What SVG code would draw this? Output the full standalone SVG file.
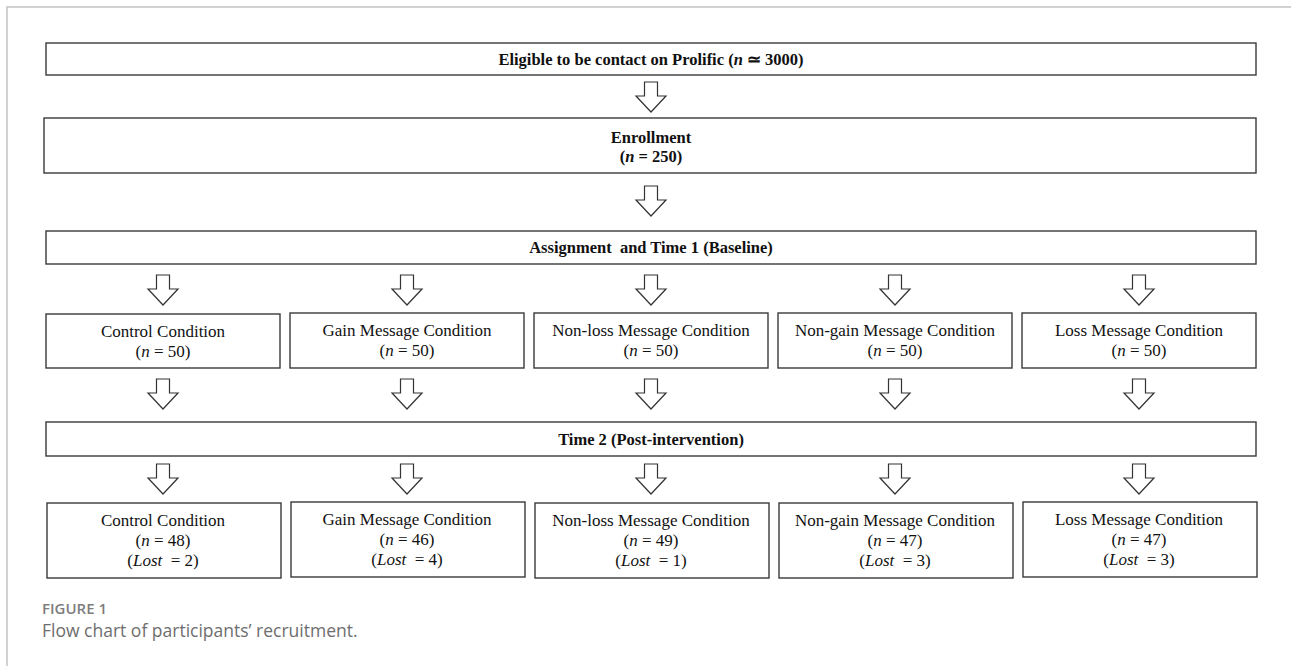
<svg xmlns="http://www.w3.org/2000/svg" xmlns:xlink="http://www.w3.org/1999/xlink" width="1291" height="666" viewBox="0 0 1291 666">
<style>
.frame{stroke:#c4c4c4;stroke-width:1.5;fill:none}
.box{fill:#fff;stroke:#3a3a3a;stroke-width:1.4}
.h{font-family:"Liberation Serif","Times New Roman",serif;font-weight:bold;font-size:16.5px;text-anchor:middle;fill:#111}
.t{font-family:"Liberation Serif","Times New Roman",serif;font-size:17px;text-anchor:middle;fill:#111}
.i{font-style:italic}
.cap1{font-family:"Open Sans","Noto Sans",sans-serif;font-weight:600;font-size:15px;fill:#7d7d7d}
.cap2{font-family:"Open Sans","Noto Sans",sans-serif;font-weight:400;font-size:17.5px;fill:#6e6e6e}
.arr{fill:#fff;stroke:#333;stroke-width:1.2;stroke-linejoin:miter}
</style>
<defs>
<path id="arrow" class="arr" d="M-6.5,0 H6.5 V14 H15 L0,30 L-15,14 H-6.5 Z"/>
</defs>
<rect x="0" y="0" width="1291" height="666" fill="#fff"/>
<path class="frame" d="M7,666 V7 H1291"/>

<g id="connectors">
<use xlink:href="#arrow" x="651" y="82"/>
<use xlink:href="#arrow" x="651" y="186"/>
<use xlink:href="#arrow" x="163" y="275"/>
<use xlink:href="#arrow" x="407" y="275"/>
<use xlink:href="#arrow" x="651" y="275"/>
<use xlink:href="#arrow" x="895" y="275"/>
<use xlink:href="#arrow" x="1139" y="275"/>
<use xlink:href="#arrow" x="163" y="379"/>
<use xlink:href="#arrow" x="407" y="379"/>
<use xlink:href="#arrow" x="651" y="379"/>
<use xlink:href="#arrow" x="895" y="379"/>
<use xlink:href="#arrow" x="1139" y="379"/>
<use xlink:href="#arrow" x="163" y="464"/>
<use xlink:href="#arrow" x="407" y="464"/>
<use xlink:href="#arrow" x="651" y="464"/>
<use xlink:href="#arrow" x="895" y="464"/>
<use xlink:href="#arrow" x="1139" y="464"/>
</g>

<g id="eligible">
<rect class="box" x="46" y="43" width="1210" height="32"/>
<text class="h" x="651" y="65">Eligible to be contact on Prolific (<tspan class="i">n</tspan> ≃ 3000)</text>
</g>
<g id="enrollment">
<rect class="box" x="44" y="118" width="1212" height="55"/>
<text class="h" x="651" y="143">Enrollment</text>
<text class="h" x="651" y="162">(<tspan class="i">n</tspan> = 250)</text>
</g>
<g id="assignment">
<rect class="box" x="46" y="231" width="1210" height="33"/>
<text class="h" x="651" y="253" xml:space="preserve">Assignment  and Time 1 (Baseline)</text>
</g>

<g id="t1-control">
<rect class="box" x="46" y="314" width="234" height="54"/>
<text class="t" x="163" y="337">Control Condition</text>
<text class="t" x="163" y="357">(<tspan class="i">n</tspan> = 50)</text>
</g>
<g id="t1-gain">
<rect class="box" x="290" y="313" width="234" height="55"/>
<text class="t" x="407" y="336">Gain Message Condition</text>
<text class="t" x="407" y="356">(<tspan class="i">n</tspan> = 50)</text>
</g>
<g id="t1-nonloss">
<rect class="box" x="534" y="313" width="234" height="55"/>
<text class="t" x="651" y="336">Non-loss Message Condition</text>
<text class="t" x="651" y="356">(<tspan class="i">n</tspan> = 50)</text>
</g>
<g id="t1-nongain">
<rect class="box" x="778" y="313" width="234" height="55"/>
<text class="t" x="895" y="336">Non-gain Message Condition</text>
<text class="t" x="895" y="356">(<tspan class="i">n</tspan> = 50)</text>
</g>
<g id="t1-loss">
<rect class="box" x="1022" y="313" width="234" height="55"/>
<text class="t" x="1139" y="336">Loss Message Condition</text>
<text class="t" x="1139" y="356">(<tspan class="i">n</tspan> = 50)</text>
</g>

<g id="time2">
<rect class="box" x="46" y="422" width="1210" height="34"/>
<text class="h" x="651" y="445">Time 2 (Post-intervention)</text>
</g>

<g id="t2-control">
<rect class="box" x="47" y="503" width="234" height="75"/>
<text class="t" x="163" y="526">Control Condition</text>
<text class="t" x="163" y="546">(<tspan class="i">n</tspan> = 48)</text>
<text class="t" x="163" y="566" xml:space="preserve">(<tspan class="i">Lost</tspan>  = 2)</text>
</g>
<g id="t2-gain">
<rect class="box" x="291" y="502" width="234" height="75"/>
<text class="t" x="407" y="525">Gain Message Condition</text>
<text class="t" x="407" y="545">(<tspan class="i">n</tspan> = 46)</text>
<text class="t" x="407" y="565" xml:space="preserve">(<tspan class="i">Lost</tspan>  = 4)</text>
</g>
<g id="t2-nonloss">
<rect class="box" x="535" y="503" width="234" height="75"/>
<text class="t" x="651" y="526">Non-loss Message Condition</text>
<text class="t" x="651" y="546">(<tspan class="i">n</tspan> = 49)</text>
<text class="t" x="651" y="566" xml:space="preserve">(<tspan class="i">Lost</tspan>  = 1)</text>
</g>
<g id="t2-nongain">
<rect class="box" x="779" y="503" width="234" height="75"/>
<text class="t" x="895" y="526">Non-gain Message Condition</text>
<text class="t" x="895" y="546">(<tspan class="i">n</tspan> = 47)</text>
<text class="t" x="895" y="566" xml:space="preserve">(<tspan class="i">Lost</tspan>  = 3)</text>
</g>
<g id="t2-loss">
<rect class="box" x="1023" y="502" width="234" height="75"/>
<text class="t" x="1139" y="525">Loss Message Condition</text>
<text class="t" x="1139" y="545">(<tspan class="i">n</tspan> = 47)</text>
<text class="t" x="1139" y="565" xml:space="preserve">(<tspan class="i">Lost</tspan>  = 3)</text>
</g>

<g id="caption">
<text class="cap1" x="42" y="614">FIGURE 1</text>
<text class="cap2" x="42" y="637">Flow chart of participants’ recruitment.</text>
</g>
</svg>
